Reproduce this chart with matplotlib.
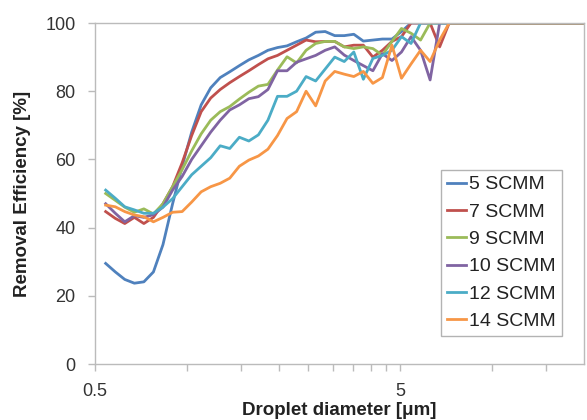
import matplotlib
matplotlib.use("Agg")
import matplotlib.pyplot as plt
from matplotlib.ticker import FixedLocator, NullFormatter

plt.rcParams['font.family'] = ['Liberation Sans', 'DejaVu Sans']

# APS channel midpoints [um]
diameter = [0.542, 0.583, 0.626, 0.673, 0.723, 0.777, 0.835, 0.898, 0.965, 1.037,
            1.114, 1.197, 1.286, 1.382, 1.486, 1.596, 1.715, 1.843, 1.981, 2.129,
            2.288, 2.458, 2.642, 2.839, 3.051, 3.278, 3.523, 3.786, 4.068, 4.371,
            4.698, 5.048, 5.425, 5.829, 6.264, 6.732, 7.234, 7.774, 8.354, 8.977,
            9.647, 10.37, 11.14, 11.97, 12.86, 13.82, 14.86, 15.96, 17.15, 18.43,
            19.81]

eff_5 = [29.5, 27, 24.8, 23.7, 24.1, 27, 35, 47, 58, 68,
         76, 81, 84, 85.7, 87.5, 89.2, 90.5, 92, 92.8, 93.3,
         94.5, 95.6, 97.3, 97.5, 96.3, 96.3, 96.7, 94.7, 95, 95.3,
         95.3, 97.5, 100, 100, 100, 100, 100, 100, 100, 100,
         100, 100, 100, 100, 100, 100, 100, 100, 100, 100,
         100]
eff_7 = [44.7, 42.7, 41.2, 43, 41.2, 43, 47, 52, 59, 67,
         74, 78, 80.5, 82.5, 84.3, 86, 87.8, 89.5, 90.5, 92,
         93.5, 95, 94.5, 94.6, 94.6, 93, 93.5, 93.5, 90, 92,
         94.6, 96, 100, 100, 100, 93, 100, 100, 100, 100,
         100, 100, 100, 100, 100, 100, 100, 100, 100, 100,
         100]
eff_9 = [50, 48, 46, 44.5, 45.5, 44, 47, 52, 57, 62.5,
         67.5, 71.5, 74, 75.5, 77.7, 79.7, 81.5, 82, 86.2, 90.1,
         88.3, 92, 94, 94.6, 94.6, 93, 92.5, 93, 92.5, 90.6,
         94.6, 98.4, 97, 95, 100, 100, 100, 100, 100, 100,
         100, 100, 100, 100, 100, 100, 100, 100, 100, 100,
         100]
eff_10 = [47, 44.2, 41.7, 43.5, 43, 43.8, 46, 51, 55, 60,
          64, 68, 71.5, 74.5, 76, 77.8, 78.4, 80.5, 86, 86,
          88.5, 89.5, 90.5, 92, 93, 90.6, 89, 87.5, 86, 91,
          89, 91.5, 96, 92, 83.3, 100, 100, 100, 100, 100,
          100, 100, 100, 100, 100, 100, 100, 100, 100, 100,
          100]
eff_12 = [51, 48.6, 46.1, 45.2, 44.2, 44.2, 46, 48.5, 52, 55.5,
          58, 60.5, 64, 63.2, 66.5, 65.4, 67.2, 71.5, 78.5, 78.5,
          80, 84.3, 83, 86.5, 90, 88.7, 91.5, 83.5, 89.6, 90.5,
          92, 96, 94, 100, 100, 100, 100, 100, 100, 100,
          100, 100, 100, 100, 100, 100, 100, 100, 100, 100,
          100]
eff_14 = [46.6, 46.1, 44.7, 43.7, 43.2, 41.7, 43, 44.5, 44.7, 47.5,
          50.5, 52, 53, 54.5, 58, 59.8, 61, 63, 67, 72,
          74, 80, 75.7, 83, 85.8, 85, 84.3, 85.8, 82.3, 84,
          93.5, 83.8, 88, 92, 88.7, 95, 100, 100, 100, 100,
          100, 100, 100, 100, 100, 100, 100, 100, 100, 100,
          100]

labels = ['5 SCMM', '7 SCMM', '9 SCMM', '10 SCMM', '12 SCMM', '14 SCMM']
colors = ['#4F81BD', '#C0504D', '#9BBB59', '#8064A2', '#4BACC6', '#F79646']
series = [eff_5, eff_7, eff_9, eff_10, eff_12, eff_14]

fig = plt.figure(figsize=(5.87, 4.2), dpi=100)
ax = fig.add_axes([0.1618, 0.1333, 0.8331, 0.8119])

for vals, lab, col in zip(series, labels, colors):
    ax.plot(diameter, vals, color=col, linewidth=2.0, label=lab)

ax.set_xscale('log')
ax.set_xlim(0.5, 20)
ax.set_ylim(0, 100)

ax.xaxis.set_major_locator(FixedLocator([0.5, 5]))
ax.xaxis.set_minor_locator(FixedLocator([1, 1.5, 2, 2.5, 3, 3.5, 4, 4.5, 10, 15]))
ax.set_xticklabels(['0.5', '5'])
ax.xaxis.set_minor_formatter(NullFormatter())
ax.set_yticks([0, 20, 40, 60, 80, 100])

grey = '#BBBBBB'
for sp in ax.spines.values():
    sp.set_color(grey)
    sp.set_linewidth(1.0)

ax.tick_params(axis='both', which='both', direction='out', length=5, width=1,
               color=grey, labelcolor='#333333', labelsize=13, pad=9)

ax.set_xlabel('Droplet diameter [\u03bcm]', fontsize=13.5, fontweight='bold',
              color='#222222', labelpad=1)
ax.set_ylabel('Removal Efficiency [%]', fontsize=13.5, fontweight='bold',
              color='#222222', labelpad=10)

leg = ax.legend(loc='upper left', bbox_to_anchor=(441 / 587, 1 - 170 / 420),
                bbox_transform=fig.transFigure, fontsize=14, frameon=True,
                fancybox=False, edgecolor='#A0A0A0', handlelength=1.0,
                handletextpad=0.15, labelspacing=0.5, borderpad=0.3,
                borderaxespad=0)
leg.get_frame().set_linewidth(1.0)
for t in leg.get_texts():
    t.set_color('#222222')

fig.savefig('out.png', dpi=100)
